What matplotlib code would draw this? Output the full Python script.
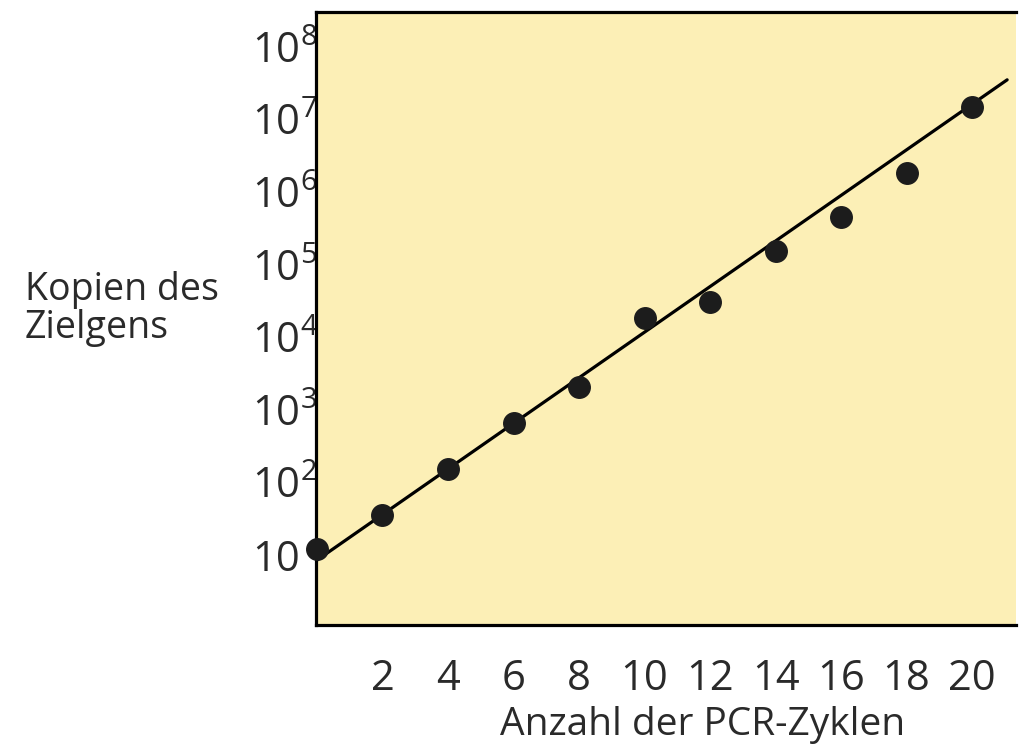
import matplotlib
matplotlib.use('Agg')
import matplotlib.pyplot as plt

plt.rcParams['font.family'] = ['Open Sans', 'DejaVu Sans']
plt.rcParams['mathtext.fontset'] = 'custom'
plt.rcParams['mathtext.rm'] = 'Open Sans'

# data
zyklen = [0, 2, 4, 6, 8, 10, 12, 14, 16, 18, 20]
kopien = [12, 36, 153, 660, 2060, 18400, 30500, 154000, 453000, 1.83e6, 1.48e7]
fit_x = [0, 21.07]
fit_y = [8.5, 3.5e7]
xticks = [2, 4, 6, 8, 10, 12, 14, 16, 18, 20]
yticks = [10, 1e2, 1e3, 1e4, 1e5, 1e6, 1e7, 1e8]
ylabels = ['10', '$10^2$', '$10^3$', '$10^4$', '$10^5$', '$10^6$', '$10^7$', '$10^8$']

fig = plt.figure(figsize=(10.21, 7.52), dpi=100)
ax = fig.add_axes([0.3095, 0.1689, 0.6856, 0.8152])
ax.set_facecolor('#fcefb6')

ax.plot(fit_x, fit_y, color='black', lw=2.3, solid_capstyle='round', zorder=2)
ax.plot(zyklen, kopien, 'o', color='#1c1c1c', markersize=15.5, zorder=3, clip_on=False)

ax.set_yscale('log')
ax.set_xlim(-0.03, 21.34)
ax.set_ylim(1.087, 3.01e8)
ax.set_xticks(xticks)
ax.set_xticklabels([str(t) for t in xticks])
ax.set_yticks(yticks)
ax.set_yticklabels(ylabels)
ax.minorticks_off()
ax.tick_params(axis='both', length=0, labelsize=30, colors='#2a2a2a')
# base "10" of every label starts at the same x, like in the source
ax.tick_params(axis='y', pad=46)
for lab in ax.get_yticklabels():
    lab.set_horizontalalignment('left')
ax.tick_params(axis='x', pad=24)

for s in ['left', 'top', 'bottom']:
    ax.spines[s].set_linewidth(2.3)
    ax.spines[s].set_color('black')
ax.spines['right'].set_visible(False)

fig.text(25/1021, 1 - 300/752, 'Kopien des', fontsize=27, color='#2a2a2a', va='baseline')
fig.text(25/1021, 1 - 338/752, 'Zielgens', fontsize=27, color='#2a2a2a', va='baseline')
fig.text(703/1021, 1 - 735/752, 'Anzahl der PCR-Zyklen', fontsize=28, color='#2a2a2a',
         ha='center', va='baseline')

fig.savefig('out.png', dpi=100)
